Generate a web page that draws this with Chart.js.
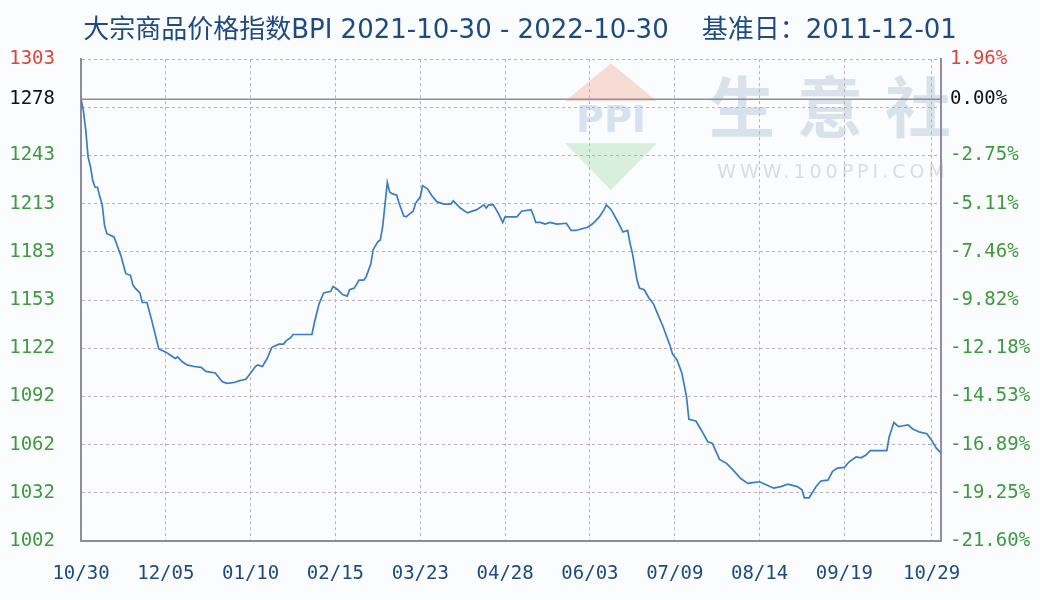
<!DOCTYPE html>
<html>
<head>
<meta charset="utf-8">
<title>大宗商品价格指数BPI</title>
<script src="https://cdn.jsdelivr.net/npm/chart.js@4.4.1/dist/chart.umd.min.js"></script>
<style>
    html, body { margin: 0; padding: 0; background: #fafcfe; }
    #wrap { width: 1040px; height: 600px; }
</style>
</head>
<body>
<div id="wrap"><canvas id="bpiChart" width="1040" height="600"></canvas></div>
<script>
// ============================================
// 数据 (day index from 2021-10-30)
// ============================================
const dayIdx = [
    0, 1, 2, 3, 4, 5, 6, 7, 8, 9, 10, 11, 14, 15, 17, 19, 21, 22, 23, 25,
    26, 28, 30, 32, 33, 36, 38, 40, 41, 43, 45, 48, 51, 53, 57, 60, 62, 65, 67, 70,
    72, 74, 75, 77, 79, 81, 84, 86, 87, 89, 90, 98, 99, 101, 103, 106, 107, 109, 111, 113,
    114, 116, 118, 120, 121, 123, 124, 126, 127, 128, 129, 130, 131, 132, 134, 135, 137, 138, 140, 141,
    142, 144, 145, 147, 149, 151, 154, 157, 158, 161, 164, 168, 171, 172, 173, 175, 177, 179, 180, 185,
    187, 191, 192, 193, 195, 197, 199, 202, 206, 208, 210, 215, 217, 220, 222, 223, 225, 228, 230, 232,
    233, 234, 236, 237, 239, 241, 243, 245, 247, 250, 251, 253, 255, 257, 258, 261, 263, 266, 268, 271,
    274, 277, 280, 283, 285, 288, 291, 294, 297, 300, 304, 306, 307, 309, 312, 314, 317, 319, 321, 324,
    326, 329, 331, 333, 335, 342, 343, 345, 347, 349, 351, 353, 356, 359, 361, 363, 365
];
const bpiValues = [
    1278, 1271, 1259, 1242, 1236, 1227, 1223, 1223, 1217, 1212, 1199, 1194, 1192, 1188, 1180, 1169, 1168, 1162, 1160, 1157,
    1151, 1151, 1140, 1128, 1122, 1120, 1118, 1116, 1117, 1114, 1112, 1111, 1110.5, 1108, 1107, 1101.5, 1100.5, 1101, 1102, 1103,
    1107, 1111, 1112, 1111, 1116, 1123, 1125, 1125, 1127, 1129, 1131, 1131, 1138, 1150, 1157, 1158, 1161, 1159, 1156, 1155,
    1159, 1160, 1165, 1165, 1167, 1175, 1184, 1189, 1190, 1198, 1212, 1226, 1220, 1219, 1218, 1213, 1205, 1204.5, 1207, 1208,
    1213, 1217, 1224, 1222, 1217.5, 1214, 1212.5, 1212.5, 1214.5, 1210, 1207, 1209, 1212, 1210, 1212, 1212, 1207, 1201, 1204.5, 1204.5,
    1208, 1209, 1205.5, 1201, 1201, 1200, 1201, 1200, 1200.5, 1196, 1196, 1198, 1200, 1204.5, 1209, 1212, 1209, 1201, 1195, 1196,
    1188, 1182, 1165, 1160, 1159, 1154, 1150, 1143, 1136, 1124, 1119, 1115, 1107, 1092, 1078, 1077, 1072, 1064, 1063, 1053,
    1050.5, 1046, 1041, 1038, 1038.5, 1039, 1037, 1035, 1036, 1037.5, 1036, 1034, 1029, 1029, 1036, 1039.5, 1040, 1045.5, 1047.5, 1048,
    1051.5, 1054.5, 1054, 1055.5, 1058.5, 1058.5, 1067, 1076, 1073.5, 1074, 1074.5, 1072, 1070, 1069, 1065, 1060, 1057
];

const xTickIdx = [0, 36, 72, 108, 144, 180, 216, 252, 288, 324, 361];
const xTickLabels = ['10/30', '12/05', '01/10', '02/15', '03/23', '04/28', '06/03', '07/09', '08/14', '09/19', '10/29'];

const yTickValues = [1002, 1032.1, 1062.2, 1092.3, 1122.4, 1152.5, 1182.6, 1212.7, 1242.8, 1272.9, 1303];
const leftTickLabels = ['1002', '1032', '1062', '1092', '1122', '1153', '1183', '1213', '1243', '', '1303'];
const rightTickLabels = ['-21.60%', '-19.25%', '-16.89%', '-14.53%', '-12.18%', '-9.82%', '-7.46%', '-5.11%', '-2.75%', '', '1.96%'];

const baseValue = 1278;
const baseLeftLabel = '1278';
const baseRightLabel = '0.00%';

const yMin = 1002;
const yMax = 1303;
const xMax = 365;

// colours
const RED = '#d9463f';
const GREEN = '#3f9a3f';
const NAVY = '#1d4b80';
const GRID = '#bcaebc';
const AXIS = '#8d8b9c';

function labelColor(ctx) {
    const v = ctx.tick.value;
    if (v === yMax) return RED;
    if (v === baseValue) return '#111111';
    return GREEN;
}

function yLabel(v, labels, baseLabel) {
    if (v === baseValue) return baseLabel;
    const i = yTickValues.indexOf(v);
    return i >= 0 ? labels[i] : '';
}

function setYTicks(scale) {
    scale.ticks = yTickValues.concat([baseValue]).map(v => ({ value: v }));
}

// 生意社 watermark behind the grid
const watermark = {
    id: 'watermark',
    beforeDraw(chart) {
        const { ctx, chartArea: a } = chart;
        const cx = a.left + 530;
        ctx.save();
        // red triangle
        ctx.fillStyle = '#f6dcd3';
        ctx.beginPath();
        ctx.moveTo(cx, a.top + 4);
        ctx.lineTo(cx + 46, a.top + 42);
        ctx.lineTo(cx - 46, a.top + 42);
        ctx.closePath();
        ctx.fill();
        // green triangle
        ctx.fillStyle = '#d9efdd';
        ctx.beginPath();
        ctx.moveTo(cx - 46, a.top + 84);
        ctx.lineTo(cx + 46, a.top + 84);
        ctx.lineTo(cx, a.top + 131);
        ctx.closePath();
        ctx.fill();
        // PPI
        ctx.fillStyle = '#d6e2ef';
        ctx.font = 'bold 38px "DejaVu Sans"';
        ctx.textAlign = 'center';
        ctx.textBaseline = 'middle';
        ctx.fillText('PPI', cx, a.top + 63);
        // 生意社
        ctx.fillStyle = '#d9e2eb';
        ctx.font = 'bold 66px "Noto Sans CJK SC"';
        ['生', '意', '社'].forEach((ch, i) => {
            ctx.fillText(ch, a.left + 661 + i * 88, a.top + 48);
        });
        // url
        ctx.fillStyle = '#dcdcdc';
        ctx.font = '19px "DejaVu Sans"';
        ctx.letterSpacing = '4px';
        ctx.fillText('WWW.100PPI.COM', a.left + 752, a.top + 114);
        ctx.restore();
    }
};

const ctx = document.getElementById('bpiChart');

new Chart(ctx, {
    type: 'line',
    data: {
        datasets: [
            {
                label: 'BPI',
                data: dayIdx.map((d, i) => ({ x: d, y: bpiValues[i] })),
                borderColor: '#3a7dc2',
                borderWidth: 1.7,
                pointRadius: 0,
                tension: 0,
                yAxisID: 'y',
                order: 1
            },
            {
                label: 'base',
                data: [{ x: 0, y: baseValue }, { x: xMax, y: baseValue }],
                borderColor: AXIS,
                borderWidth: 1.5,
                pointRadius: 0,
                yAxisID: 'y',
                order: 2
            }
        ]
    },
    options: {
        responsive: false,
        animation: false,
        devicePixelRatio: 1,
        layout: { padding: 0 },
        plugins: {
            legend: { display: false },
            tooltip: { enabled: false },
            title: {
                display: true,
                text: '大宗商品价格指数BPI 2021-10-30 - 2022-10-30    基准日：2011-12-01',
                color: NAVY,
                font: { family: '"DejaVu Sans", "Noto Sans CJK SC"', size: 26, weight: 'normal', lineHeight: 1.2 },
                padding: { top: 16, bottom: 12 }
            }
        },
        scales: {
            x: {
                type: 'linear',
                min: 0,
                max: xMax,
                afterBuildTicks: (s) => { s.ticks = xTickIdx.map(v => ({ value: v })); },
                afterFit: (s) => { s.height = 59; },
                ticks: {
                    autoSkip: false,
                    maxRotation: 0,
                    padding: 22,
                    color: NAVY,
                    font: { family: '"DejaVu Sans Mono"', size: 19 },
                    callback: (v) => xTickLabels[xTickIdx.indexOf(v)]
                },
                grid: { color: GRID, drawTicks: false },
                border: { color: AXIS, width: 2, dash: [3, 3] }
            },
            y: {
                position: 'left',
                min: yMin,
                max: yMax,
                afterBuildTicks: setYTicks,
                afterFit: (s) => { s.width = 81; },
                ticks: {
                    autoSkip: false,
                    padding: 26,
                    color: labelColor,
                    font: { family: '"DejaVu Sans Mono"', size: 19 },
                    callback: (v) => yLabel(v, leftTickLabels, baseLeftLabel)
                },
                grid: {
                    drawTicks: false,
                    color: (c) => (c.tick && c.tick.value === baseValue) ? 'rgba(0,0,0,0)' : GRID
                },
                border: { color: AXIS, width: 2, dash: [3, 3] }
            },
            y2: {
                position: 'right',
                min: yMin,
                max: yMax,
                afterBuildTicks: setYTicks,
                afterFit: (s) => { s.width = 99; },
                ticks: {
                    autoSkip: false,
                    padding: 9,
                    color: labelColor,
                    font: { family: '"DejaVu Sans Mono"', size: 19 },
                    callback: (v) => yLabel(v, rightTickLabels, baseRightLabel)
                },
                grid: { drawOnChartArea: false, drawTicks: false },
                border: { color: '#938ab0', width: 2 }
            }
        }
    },
    plugins: [watermark]
});
</script>
</body>
</html>
